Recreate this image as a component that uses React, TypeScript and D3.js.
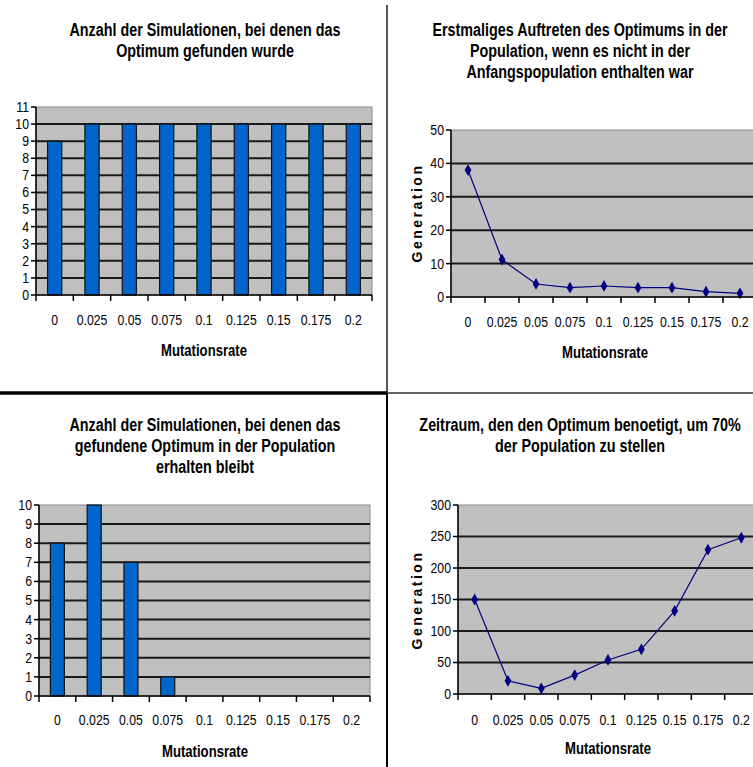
import React from "react";
import * as d3 from "d3";

// Mutation rates used on every x axis
const rates = ["0", "0.025", "0.05", "0.075", "0.1", "0.125", "0.15", "0.175", "0.2"];

// Number of runs (out of 10) in which the optimum was found
const foundCounts = [9, 10, 10, 10, 10, 10, 10, 10, 10];
// Generation in which the optimum first appeared
const firstAppearance = [38, 11.2, 3.9, 2.8, 3.3, 2.8, 2.8, 1.6, 1.1];
// Number of runs in which the found optimum stayed in the population
const keptCounts = [8, 10, 7, 1, 0, 0, 0, 0, 0];
// Generations needed until the optimum makes up 70% of the population
const takeoverTime = [150, 21, 9, 30, 54, 71, 132, 229, 248];

const titleFound = ["Anzahl der Simulationen, bei denen das", "Optimum gefunden wurde"];
const titleFirst = [
  "Erstmaliges Auftreten des Optimums in der",
  "Population, wenn es nicht in der",
  "Anfangspopulation enthalten war",
];
const titleKept = [
  "Anzahl der Simulationen, bei denen das",
  "gefundene Optimum in der Population",
  "erhalten bleibt",
];
const titleTakeover = ["Zeitraum, den den Optimum benoetigt, um 70%", "der Population zu stellen"];

const xAxisTitle = "Mutationsrate";
const yAxisTitle = "Generation";

const FONT = "'Liberation Sans', Arial, sans-serif";
const NARROW_SCALE = 0.82;

type NTextProps = {
  x: number;
  y: number;
  size: number;
  bold?: boolean;
  anchor?: "start" | "middle" | "end";
  children: React.ReactNode;
};

// Condensed text: a regular sans face squeezed horizontally
function NText({ x, y, size, bold, anchor = "middle", children }: NTextProps) {
  return (
    <text
      transform={`translate(${x},${y}) scale(${NARROW_SCALE},1)`}
      textAnchor={anchor}
      dominantBaseline="central"
      fontFamily={FONT}
      fontWeight={bold ? "bold" : "normal"}
      fontSize={size}
      fill="#000"
    >
      {children}
    </text>
  );
}

type PanelProps = {
  x0: number;
  x1: number;
  y0: number;
  y1: number;
  yMax: number;
  yStep: number;
  values: number[];
  kind: "bar" | "line";
  title: string[];
  titleX: number;
  titleY: number;
  xTitleX: number;
  xTitleY: number;
  tickLabelY: number;
  yTitle?: string;
  yTitleX?: number;
  yTitleY?: number;
};

function Panel(p: PanelProps) {
  const x = d3.scaleBand<string>().domain(rates).range([p.x0, p.x1]).padding(0);
  const y = d3.scaleLinear().domain([0, p.yMax]).range([p.y1, p.y0]);
  const ticks = d3.range(0, p.yMax + p.yStep / 2, p.yStep);
  const bw = x.bandwidth();
  const barW = bw * 0.38;
  const boundaries = d3.range(0, rates.length + 1).map((i) => p.x0 + i * bw);

  const line = d3
    .line<number>()
    .x((_, i) => (x(rates[i]) as number) + bw / 2)
    .y((d) => y(d));

  const diamond = d3.symbol(d3.symbolDiamond, 40)();

  return (
    <g>
      {p.title.map((t, i) => (
        <NText key={i} x={p.titleX} y={p.titleY + i * 21} size={17.5} bold>
          {t}
        </NText>
      ))}

      <rect x={p.x0} y={p.y0} width={p.x1 - p.x0} height={p.y1 - p.y0} fill="#c0c0c0" stroke="#8a8a8a" strokeWidth={1} />

      {ticks
        .filter((t) => t > 0 && t < p.yMax)
        .map((t) => (
          <line key={t} x1={p.x0} x2={p.x1} y1={y(t)} y2={y(t)} stroke="#1a1a1a" strokeWidth={2} />
        ))}

      {p.kind === "bar" &&
        p.values.map((v, i) =>
          v > 0 ? (
            <rect
              key={i}
              x={(x(rates[i]) as number) + (bw - barW) / 2}
              y={y(v)}
              width={barW}
              height={y(0) - y(v)}
              fill="#0066cc"
              stroke="#111"
              strokeWidth={1.2}
            />
          ) : null
        )}

      {p.kind === "line" && (
        <g>
          <path d={line(p.values) || ""} fill="none" stroke="#000080" strokeWidth={1.2} />
          {p.values.map((v, i) => (
            <path
              key={i}
              d={diamond || ""}
              transform={`translate(${(x(rates[i]) as number) + bw / 2},${y(v)})`}
              fill="#000080"
            />
          ))}
        </g>
      )}

      {/* axes */}
      <line x1={p.x0} x2={p.x0} y1={p.y0} y2={p.y1} stroke="#000" strokeWidth={1.5} />
      <line x1={p.x0} x2={p.x1} y1={p.y1} y2={p.y1} stroke="#000" strokeWidth={1.5} />

      {ticks.map((t) => (
        <g key={t}>
          <line x1={p.x0 - 5} x2={p.x0} y1={y(t)} y2={y(t)} stroke="#000" strokeWidth={1.5} />
          <NText x={p.x0 - 7} y={y(t)} size={15} anchor="end">
            {t}
          </NText>
        </g>
      ))}

      {boundaries.map((bx, i) => (
        <line key={i} x1={bx} x2={bx} y1={p.y1} y2={p.y1 + 6} stroke="#000" strokeWidth={1.5} />
      ))}

      {rates.map((r) => (
        <NText key={r} x={(x(r) as number) + bw / 2} y={p.tickLabelY} size={15}>
          {r}
        </NText>
      ))}

      <NText x={p.xTitleX} y={p.xTitleY} size={16} bold>
        {xAxisTitle}
      </NText>

      {p.yTitle && (
        <text
          transform={`translate(${p.yTitleX},${p.yTitleY}) rotate(-90)`}
          textAnchor="middle"
          dominantBaseline="central"
          fontFamily={FONT}
          fontWeight="bold"
          fontSize={14}
          letterSpacing={2.5}
          fill="#000"
        >
          {p.yTitle}
        </text>
      )}
    </g>
  );
}

export default function App() {
  return (
    <svg
      width={753}
      height={767}
      viewBox="0 0 753 767"
      style={{ position: "absolute", left: 0, top: 0, background: "#fff" }}
    >
      <rect width={753} height={767} fill="#fff" />

      <Panel
        x0={36}
        x1={372}
        y0={107}
        y1={295}
        yMax={11}
        yStep={1}
        values={foundCounts}
        kind="bar"
        title={titleFound}
        titleX={205}
        titleY={30}
        xTitleX={204}
        xTitleY={351}
        tickLabelY={320}
      />

      <Panel
        x0={451}
        x1={757}
        y0={130}
        y1={297}
        yMax={50}
        yStep={10}
        values={firstAppearance}
        kind="line"
        title={titleFirst}
        titleX={580}
        titleY={30}
        xTitleX={605}
        xTitleY={353}
        tickLabelY={322}
        yTitle={yAxisTitle}
        yTitleX={417}
        yTitleY={213}
      />

      <Panel
        x0={39}
        x1={370}
        y0={505}
        y1={696}
        yMax={10}
        yStep={1}
        values={keptCounts}
        kind="bar"
        title={titleKept}
        titleX={205}
        titleY={425}
        xTitleX={205}
        xTitleY={752}
        tickLabelY={720}
      />

      <Panel
        x0={458}
        x1={758}
        y0={505}
        y1={694}
        yMax={300}
        yStep={50}
        values={takeoverTime}
        kind="line"
        title={titleTakeover}
        titleX={580}
        titleY={425}
        xTitleX={608}
        xTitleY={749}
        tickLabelY={720}
        yTitle={yAxisTitle}
        yTitleX={417}
        yTitleY={600}
      />

      {/* separators between the four charts */}
      <line x1={387} x2={387} y1={5} y2={393} stroke="#555" strokeWidth={2} />
      <line x1={387} x2={753} y1={393} y2={393} stroke="#666" strokeWidth={2} />
      <line x1={0} x2={387} y1={393} y2={393} stroke="#000" strokeWidth={3.5} />
      <line x1={387} x2={387} y1={393} y2={767} stroke="#000" strokeWidth={2} />
    </svg>
  );
}
